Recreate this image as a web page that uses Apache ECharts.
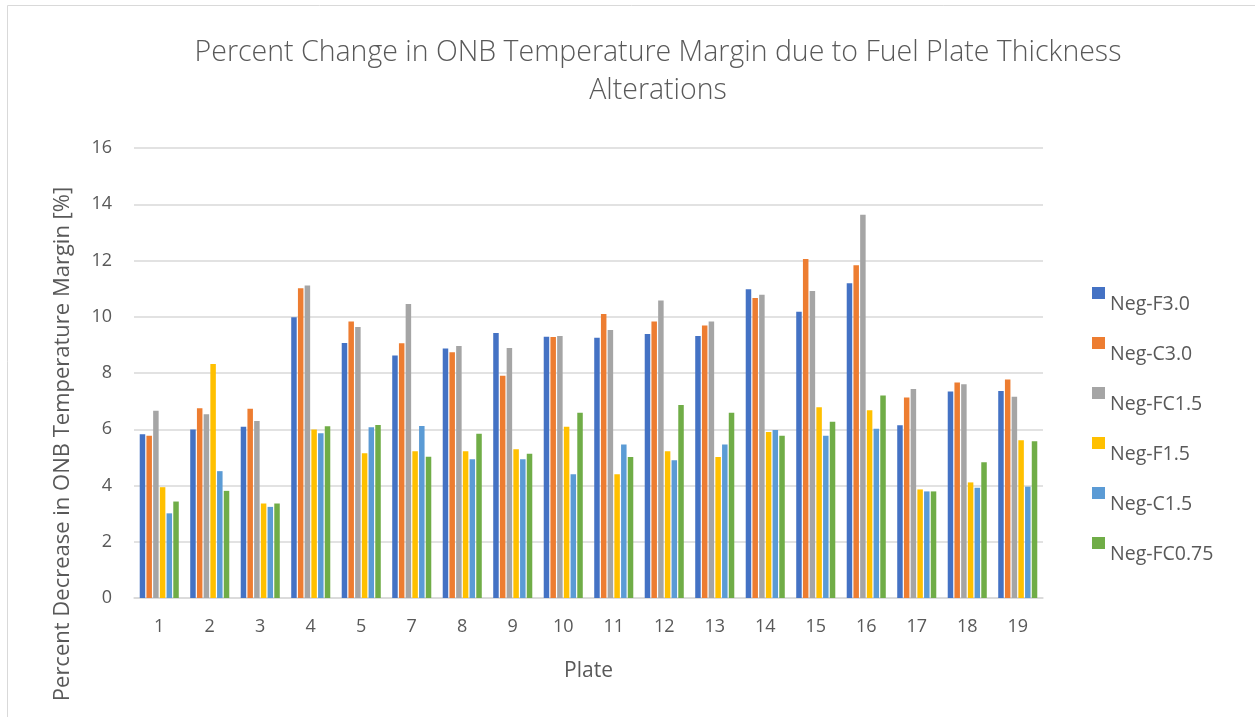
<!DOCTYPE html>
<html>
<head>
<meta charset="utf-8">
<script src="https://cdn.jsdelivr.net/npm/echarts@6/dist/echarts.min.js"></script>
<style>
html,body{margin:0;padding:0;background:#fff;}
#chart{width:1255px;height:717px;}
</style>
</head>
<body>
<div id="chart"></div>
<script>
const categories = ['1','2','3','4','5','7','8','9','10','11','12','13','14','15','16','17','18','19'];
const negF30  = [5.82,5.99,6.09,9.98,9.07,8.62,8.87,9.42,9.29,9.25,9.39,9.32,10.98,10.18,11.19,6.14,7.34,7.36];
const negC30  = [5.77,6.75,6.73,11.01,9.83,9.06,8.74,7.90,9.28,10.10,9.83,9.69,10.67,12.05,11.83,7.13,7.66,7.77];
const negFC15 = [6.66,6.53,6.29,11.11,9.64,10.45,8.96,8.89,9.32,9.53,10.58,9.83,10.78,10.92,13.63,7.43,7.60,7.16];
const negF15  = [3.94,8.32,3.36,5.99,5.15,5.22,5.22,5.29,6.09,4.40,5.22,5.01,5.90,6.78,6.68,3.86,4.11,5.61];
const negC15  = [3.01,4.51,3.24,5.86,6.07,6.12,4.93,4.93,4.40,5.46,4.90,5.46,5.97,5.77,6.02,3.79,3.92,3.96];
const negFC075= [3.43,3.81,3.36,6.11,6.15,5.02,5.84,5.13,6.59,5.01,6.86,6.59,5.77,6.27,7.20,3.79,4.83,5.57];
const seriesNames = ['Neg-F3.0','Neg-C3.0','Neg-FC1.5','Neg-F1.5','Neg-C1.5','Neg-FC0.75'];
const seriesData = [negF30,negC30,negFC15,negF15,negC15,negFC075];
const colors = ['#4472C4','#ED7D31','#A5A5A5','#FFC000','#5B9BD5','#70AD47'];
const titleText = 'Percent Change in ONB Temperature Margin due to Fuel Plate Thickness\nAlterations';
const yAxisTitle = 'Percent Decrease in ONB Temperature Margin [%]';
const xAxisTitle = 'Plate';

const FONT = '"Open Sans", "Liberation Sans", sans-serif';
const TXT = '#595959';
const chart = echarts.init(document.getElementById('chart'));
chart.setOption({
  animation: false,
  color: colors,
  textStyle: {fontFamily: FONT, color: TXT},
  title: {
    text: titleText,
    top: 29, left: 653, textAlign: 'center',
    textStyle: {fontFamily: FONT, fontSize: 28.5, fontWeight: 300, color: TXT, lineHeight: 38}
  },
  graphic: [{
    type: 'rect', shape: {x: 7.5, y: 5.5, width: 1260, height: 730},
    style: {fill: 'none', stroke: '#d9d9d9', lineWidth: 1}, silent: true, z: -1
  }, {
    type: 'text', x: 63, y: 444, rotation: Math.PI / 2, silent: true,
    style: {text: yAxisTitle, align: 'center', verticalAlign: 'middle',
            fontFamily: FONT, fontSize: 22, fill: TXT}
  }],
  legend: {
    orient: 'vertical', left: 1092, top: 272, padding: 0,
    itemWidth: 13, itemHeight: 12, itemGap: 8,
    icon: 'rect',
    data: seriesNames,
    formatter: '{a|{name}}',
    textStyle: {
      fontFamily: FONT, fontSize: 19, color: TXT,
      rich: {a: {fontFamily: FONT, fontSize: 19.5, color: TXT, lineHeight: 19, padding: [22, 0, 0, 0]}}
    }
  },
  grid: {left: 134, right: 212, top: 148, bottom: 119},
  xAxis: {
    type: 'category', data: categories,
    name: xAxisTitle, nameLocation: 'middle', nameGap: 63,
    nameTextStyle: {fontFamily: FONT, fontSize: 21, color: TXT},
    axisLine: {lineStyle: {color: '#d9d9d9', width: 1.5}},
    axisTick: {show: false},
    axisLabel: {fontFamily: FONT, fontSize: 18, color: TXT, margin: 20}
  },
  yAxis: {
    type: 'value', min: 0, max: 16, interval: 2,
    axisLine: {show: false}, axisTick: {show: false},
    axisLabel: {fontFamily: FONT, fontSize: 18, color: TXT, margin: 22},
    splitLine: {lineStyle: {color: '#d9d9d9', width: 1.5}}
  },
  series: seriesNames.map((n, i) => ({
    name: n, type: 'bar', data: seriesData[i],
    barWidth: 5.5, barGap: '22%',
    itemStyle: {color: colors[i]}
  }))
});
</script>
</body>
</html>
